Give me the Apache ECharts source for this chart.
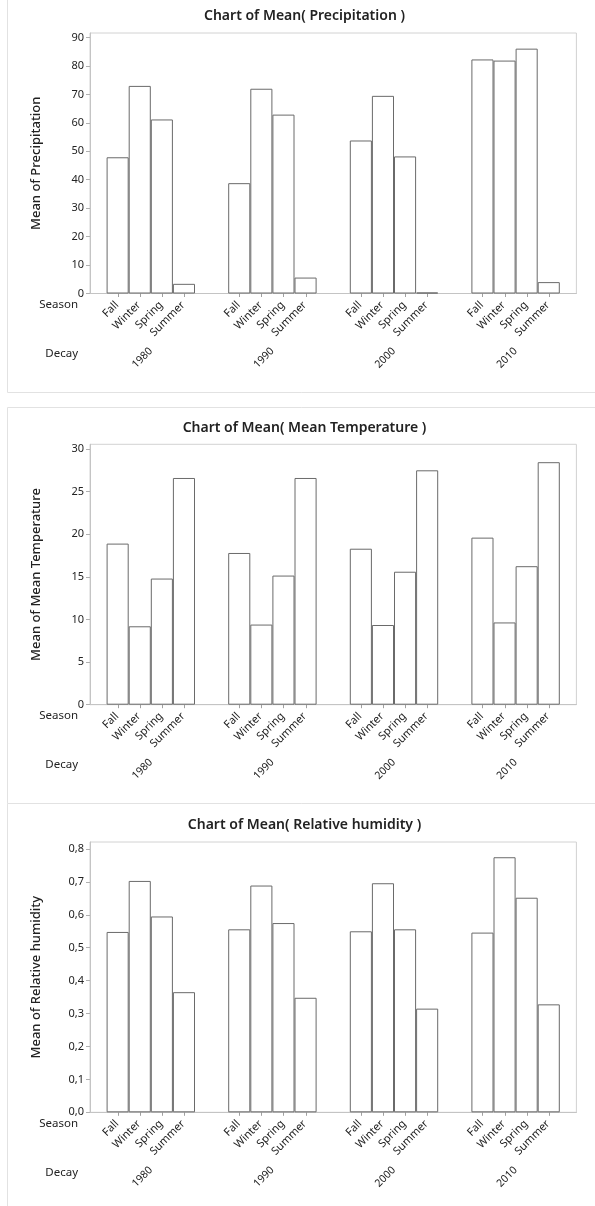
<!DOCTYPE html>
<html>
<head>
<meta charset="utf-8">
<script src="https://cdn.jsdelivr.net/npm/echarts@6/dist/echarts.min.js"></script>
<style>
html,body{margin:0;padding:0;background:#fff;}
#c{width:595px;height:1206px;}
</style>
</head>
<body>
<div id="c"></div>
<script>
// ---- data ----
const decades = ['1980', '1990', '2000', '2010'];
const seasons = ['Fall', 'Winter', 'Spring', 'Summer'];

const precipFall   = [47.9, 38.8, 53.8, 82.3];
const precipWinter = [73.0, 72.0, 69.5, 81.9];
const precipSpring = [61.2, 62.9, 48.2, 86.1];
const precipSummer = [3.4, 5.6, 0.35, 4.0];

const tempFall   = [18.9, 17.8, 18.3, 19.6];
const tempWinter = [9.2, 9.4, 9.35, 9.65];
const tempSpring = [14.8, 15.15, 15.6, 16.25];
const tempSummer = [26.6, 26.6, 27.5, 28.45];

const humidFall   = [0.548, 0.556, 0.550, 0.546];
const humidWinter = [0.703, 0.689, 0.696, 0.775];
const humidSpring = [0.595, 0.575, 0.556, 0.652];
const humidSummer = [0.365, 0.348, 0.315, 0.328];

const precipTicks = [0, 10, 20, 30, 40, 50, 60, 70, 80, 90];
const tempTicks = [0, 5, 10, 15, 20, 25, 30];
const humidTicks = [0, 0.1, 0.2, 0.3, 0.4, 0.5, 0.6, 0.7, 0.8];
const humidTickLabels = ['0,0', '0,1', '0,2', '0,3', '0,4', '0,5', '0,6', '0,7', '0,8'];

const titles = ['Chart of Mean( Precipitation )', 'Chart of Mean( Mean Temperature )', 'Chart of Mean( Relative humidity )'];
const yNames = ['Mean of Precipitation', 'Mean of Mean Temperature', 'Mean of Relative humidity'];

// ---- layout / style ----
const FONT = 'Noto Sans';
const TXT = '#222';
const BAR_W = 22.1;
const panels = [
  { top: 33, height: 260.5, max: 91.6, ticks: precipTicks, labels: null, titleY: 16,
    series: [precipFall, precipWinter, precipSpring, precipSummer] },
  { top: 444.3, height: 260.4, max: 30.55, ticks: tempTicks, labels: null, titleY: 428,
    series: [tempFall, tempWinter, tempSpring, tempSummer] },
  { top: 842, height: 270.3, max: 0.8213, ticks: humidTicks, labels: humidTickLabels, titleY: 825,
    series: [humidFall, humidWinter, humidSpring, humidSummer] }
];

const grid = [], xAxis = [], yAxis = [], series = [], graphic = [];

// panel frames
graphic.push({ type: 'polyline', silent: true, shape: { points: [[7.5, 0], [7.5, 392.5], [600, 392.5]] }, style: { stroke: '#e2e2e2', lineWidth: 1, fill: null } });
graphic.push({ type: 'rect', silent: true, shape: { x: 7.5, y: 407.5, width: 600, height: 396 }, style: { stroke: '#e2e2e2', lineWidth: 1, fill: null } });
graphic.push({ type: 'polyline', silent: true, shape: { points: [[7.5, 803.5], [7.5, 1210]] }, style: { stroke: '#e2e2e2', lineWidth: 1, fill: null } });

panels.forEach((p, i) => {
  grid.push({ left: 90, width: 486.4, top: p.top, height: p.height, show: true, borderColor: '#d2d2d2', borderWidth: 1, containLabel: false });
  xAxis.push({
    type: 'category', gridIndex: i, data: decades,
    axisLine: { lineStyle: { color: '#c4c4c4' } },
    axisTick: { show: false },
    axisLabel: { rotate: 45, margin: 56, fontSize: 10.5, fontFamily: FONT, color: TXT,
      formatter: '{d|{value}}', rich: { d: { fontSize: 10.5, fontFamily: FONT, color: TXT, padding: [0, 0, 0, 0] } } }
  });
  const labs = p.labels;
  const tks = p.ticks;
  yAxis.push({
    type: 'value', gridIndex: i, min: 0, max: p.max,
    name: yNames[i], nameLocation: 'middle', nameGap: 47,
    nameTextStyle: { fontSize: 13, fontFamily: FONT, color: TXT, fontWeight: 500 },
    splitLine: { show: false },
    axisLine: { show: true, lineStyle: { color: '#c4c4c4' } },
    axisTick: { show: true, length: 4, lineStyle: { color: '#b0b0b0' }, customValues: tks },
    axisLabel: {
      fontSize: 11, fontFamily: FONT, color: TXT, margin: 6, customValues: tks,
      formatter: function (v) {
        const k = tks.findIndex(t => Math.abs(t - v) < 1e-9);
        return labs ? labs[k] : String(tks[k]);
      }
    }
  });
  seasons.forEach((s, si) => {
    series.push({
      type: 'bar', name: s, xAxisIndex: i, yAxisIndex: i,
      data: p.series[si], barWidth: BAR_W, barGap: '0%',
      itemStyle: { color: '#ffffff', borderColor: '#6a6a6a', borderWidth: 1 },
      label: {
        show: true, position: 'bottom', distance: 9, formatter: '{a}',
        rotate: 45, align: 'right', verticalAlign: 'middle', offset: [-1, 0],
        fontSize: 11, fontFamily: FONT, color: TXT
      },
      emphasis: { disabled: true }, silent: true, animation: false
    });
  });
  // small ticks under each bar centre
  const tickData = [];
  decades.forEach((d, di) => seasons.forEach((s, si) => tickData.push([di, si, 0])));
  series.push({
    type: 'custom', xAxisIndex: i, yAxisIndex: i, silent: true, animation: false, clip: false,
    encode: { x: 0, y: 2 },
    data: tickData,
    renderItem: function (params, api) {
      const c = api.coord([api.value(0), 0]);
      const x = Math.round(c[0] + (api.value(1) - 1.5) * BAR_W) + 0.5;
      return { type: 'line', shape: { x1: x, y1: c[1], x2: x, y2: c[1] + 3.5 }, style: { stroke: '#a0a0a0', lineWidth: 1 } };
    }
  });
  // titles and side labels
  graphic.push({ type: 'text', silent: true, x: 304.5, y: p.titleY, style: { text: titles[i], fontSize: 14, fontWeight: 600, fontFamily: FONT, fill: TXT, align: 'center', verticalAlign: 'middle' } });
  const axisY = p.top + p.height;
  graphic.push({ type: 'text', silent: true, x: 78, y: axisY + 11.5, style: { text: 'Season', fontSize: 11.5, fontFamily: FONT, fill: TXT, align: 'right', verticalAlign: 'middle' } });
  graphic.push({ type: 'text', silent: true, x: 78, y: axisY + 60, style: { text: 'Decay', fontSize: 11.5, fontFamily: FONT, fill: TXT, align: 'right', verticalAlign: 'middle' } });
});

const chart = echarts.init(document.getElementById('c'), null, { renderer: 'canvas' });
chart.setOption({
  animation: false,
  backgroundColor: '#ffffff',
  textStyle: { fontFamily: FONT },
  grid, xAxis, yAxis, series, graphic
});
</script>
</body>
</html>
